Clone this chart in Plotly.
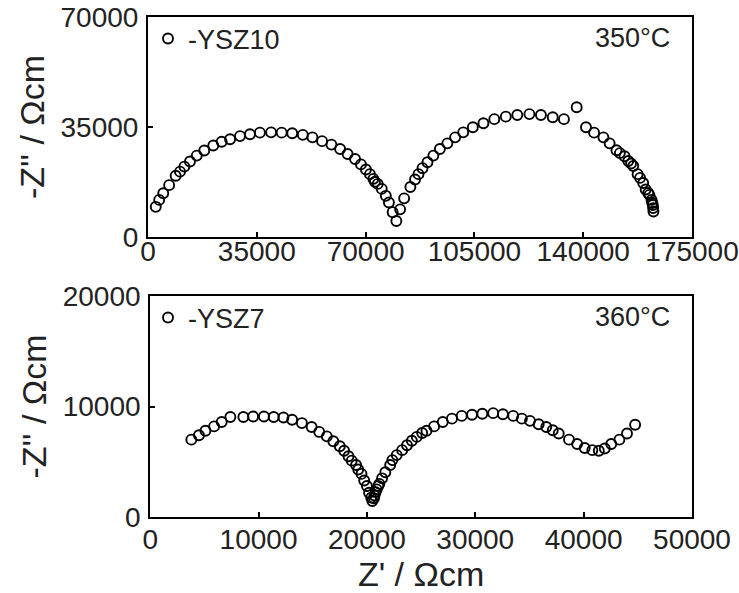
import plotly.graph_objects as go
from plotly.subplots import make_subplots

# YSZ10 at 350°C (Z', -Z'')
ysz10_zre = [2500, 3600, 4900, 6800, 8900, 10300, 11700, 13500, 15700, 18100, 21000, 23700,
             26400, 29600, 32800, 36000, 39600, 43000, 46400, 49800, 52900, 56000, 59000,
             61800, 64200, 66600, 68500, 70100, 71400, 72500, 73000, 73900, 75200, 76500,
             77500, 78700, 79900,
             81100, 82400, 84400, 85900, 87000, 88300, 89900, 91800, 93900, 96300, 98800,
             101400, 104500, 107900, 111400, 115100, 118800, 122700, 126400, 130200, 133800,
             137900, 140900, 143500, 146500, 148500, 150700, 151800, 153300, 154500, 155400,
             156100, 157500, 158300, 159300, 160100, 160900, 161300, 162000, 162200, 162400,
             162500, 162600]
ysz10_zim = [9600, 11800, 13900, 16500, 19500, 20800, 22400, 24000, 25900, 27500, 29100, 30300,
             31100, 32100, 32700, 33200, 33300, 33200, 33000, 32500, 31700, 30500, 29400,
             28000, 26400, 24800, 23100, 21500, 20000, 18500, 17600, 16900, 15300, 13100,
             11000, 7900, 5100,
             8800, 12300, 15900, 18300, 20000, 21900, 23800, 25900, 28000, 29800, 31700,
             33300, 34900, 36200, 37500, 38300, 38800, 39100, 38800, 38100, 37500,
             41300, 34900, 33200, 31700, 29800, 27600, 26700, 25700, 24200, 23400,
             22600, 20000, 18800, 17200, 15100, 14000, 13400, 11800, 10800, 10200,
             9200, 8100]

# YSZ7 at 360°C (Z', -Z'')
ysz7_zre = [3800, 4500, 5100, 5900, 6600, 7400, 8600, 9500, 10500, 11400, 12300, 13100, 14000,
            14900, 15600, 16300, 16900, 17500, 17900, 18300, 18600, 19000, 19200, 19500, 19750,
            20000, 20200, 20400, 20500, 20650, 20700, 20800, 20900, 21050, 21150, 21400, 21700,
            22150, 22350, 22750, 23250, 23700, 24150, 24600, 25100, 25500, 26200, 27000, 27850,
            28750, 29700, 30650, 31650, 32550, 33500, 34300, 35050, 35850, 36550, 37150, 37700,
            38650, 39400, 40100, 40800, 41400, 41950, 42550, 43300, 44000, 44750]
ysz7_zim = [7000, 7400, 7800, 8200, 8600, 9050, 9050, 9100, 9100, 9050, 9000, 8800, 8500,
            8150, 7700, 7300, 6850, 6400, 6000, 5500, 5100, 4700, 4300, 3900, 3300,
            2800, 2200, 1750, 1450, 1700, 1950, 2250, 2500, 2800, 3000, 3500, 4050,
            4700, 5150, 5600, 6050, 6500, 6900, 7250, 7600, 7800, 8200, 8600, 8900,
            9150, 9250, 9350, 9400, 9300, 9150, 8900, 8700, 8400, 8150, 7850, 7550,
            7000, 6600, 6250, 6050, 6000, 6200, 6600, 7000, 7550, 8350]

top_xticks = [0, 35000, 70000, 105000, 140000, 175000]
top_yticks = [0, 35000, 70000]
bot_xticks = [0, 10000, 20000, 30000, 40000, 50000]
bot_yticks = [0, 10000, 20000]

FONT = "Liberation Sans, Arial, sans-serif"
TXT = "#222222"

fig = make_subplots(rows=2, cols=1, vertical_spacing=0.1)

marker = dict(symbol="circle-open", size=10, color="black", line=dict(width=1.9, color="black"))

fig.add_trace(go.Scatter(x=ysz10_zre, y=ysz10_zim, mode="markers", marker=marker,
                         name="-YSZ10", legend="legend"), row=1, col=1)
fig.add_trace(go.Scatter(x=ysz7_zre, y=ysz7_zim, mode="markers", marker=marker,
                         name="-YSZ7", legend="legend2"), row=2, col=1)

axis_common = dict(showline=True, linecolor="black", linewidth=2, mirror=True,
                   ticks="inside", ticklen=5, tickwidth=1.5, tickcolor="black",
                   showgrid=False, zeroline=False, tickformat="d", automargin=False,
                   tickfont=dict(family=FONT, size=28, color=TXT))

fig.update_xaxes(**axis_common)
fig.update_yaxes(**axis_common)

title_font = dict(family=FONT, size=34, color=TXT)

fig.update_layout(
    width=739, height=593,
    margin=dict(l=148, r=47, t=17, b=76),
    paper_bgcolor="white", plot_bgcolor="white",
    showlegend=True,
    xaxis=dict(domain=[0, 1], range=[0, 175000], tickvals=top_xticks, ticklabelstandoff=-12),
    yaxis=dict(domain=[0.56, 1], range=[0, 70000], tickvals=top_yticks, ticklabelstandoff=2,
               title=dict(text="-Z'' / Ωcm", font=title_font, standoff=6)),
    xaxis2=dict(domain=[0.004, 1], range=[0, 50000], tickvals=bot_xticks, ticklabelstandoff=-4,
                title=dict(text="Z' / Ωcm", font=title_font, standoff=15)),
    yaxis2=dict(domain=[0, 0.442], range=[0, 20000], tickvals=bot_yticks, ticklabelstandoff=2,
                title=dict(text="-Z'' / Ωcm", font=title_font, standoff=6)),
    legend=dict(x=0.0, y=1.005, xanchor="left", yanchor="top", bgcolor="rgba(0,0,0,0)",
                font=dict(family=FONT, size=27, color=TXT), itemwidth=30),
    legend2=dict(x=0.0, y=0.447, xanchor="left", yanchor="top", bgcolor="rgba(0,0,0,0)",
                 font=dict(family=FONT, size=27, color=TXT), itemwidth=30),
    annotations=[
        dict(text="350°C", xref="x domain", yref="y domain", x=0.963, y=0.905,
             xanchor="right", yanchor="middle", showarrow=False,
             font=dict(family=FONT, size=27, color=TXT)),
        dict(text="360°C", xref="x2 domain", yref="y2 domain", x=0.963, y=0.906,
             xanchor="right", yanchor="middle", showarrow=False,
             font=dict(family=FONT, size=27, color=TXT)),
    ],
)

fig.write_html("out.html")
